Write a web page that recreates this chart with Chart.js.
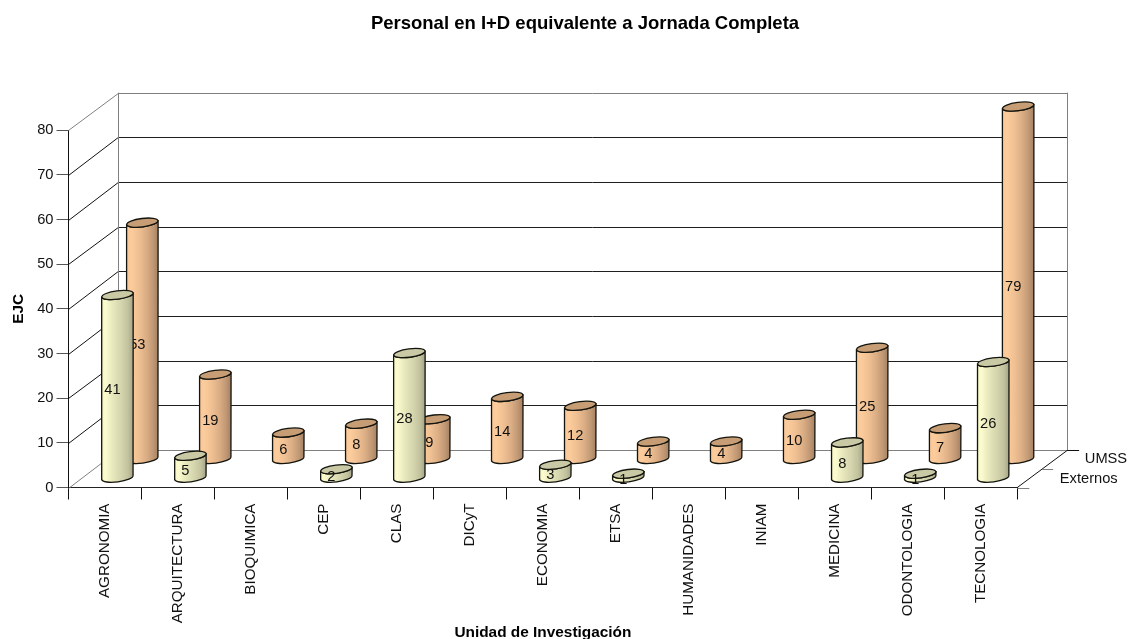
<!DOCTYPE html>
<html>
<head>
<meta charset="utf-8">
<style>html,body{margin:0;padding:0;background:#fff}canvas{display:block}</style>
<script src="https://cdn.jsdelivr.net/npm/chart.js@4"></script>
</head>
<body>
<canvas id="c" width="1132" height="639"></canvas>
<script>
const categories = ['AGRONOMIA','ARQUITECTURA','BIOQUIMICA','CEP','CLAS','DICyT','ECONOMIA','ETSA','HUMANIDADES','INIAM','MEDICINA','ODONTOLOGIA','TECNOLOGIA'];
const externos = [41,5,null,2,28,null,3,1,null,null,8,1,26];
const umss = [53,19,6,8,9,14,12,4,4,10,25,7,79];
const yTicks = [0,10,20,30,40,50,60,70,80];

const FONT = '"Liberation Sans", Arial, sans-serif';
const DEPTH_X = 49.8, DEPTH_Y = 37.5;
const TILT = -0.13;

const palettes = {
  front: {stops:[[0,'#f6f6c6'],[0.12,'#fbfbcf'],[0.35,'#e8e8bd'],[0.6,'#d6d6af'],[0.84,'#c2c29e'],[1,'#a4a488']], top:'#c9c9a6'},
  back:  {stops:[[0,'#f8c89a'],[0.15,'#fdcc9c'],[0.4,'#eebf92'],[0.62,'#dcae85'],[0.84,'#c09874'],[1,'#a48063']], top:'#c69d74'}
};

Chart.BarElement.prototype.draw = function (ctx) {
  const ds = this.$ds;
  const v = this.$raw;
  if (!ds || v === null || v === undefined) return;
  const cx = this.x + DEPTH_X * ds.depth;
  const yb = this.base - DEPTH_Y * ds.depth;
  const yt = this.y - DEPTH_Y * ds.depth;
  const rx = this.width / 2, ry = 4.2;
  const dy = rx * Math.sin(-TILT);
  const pal = palettes[ds.look];
  ctx.save();
  const g = ctx.createLinearGradient(cx - rx, 0, cx + rx, 0);
  pal.stops.forEach(s => g.addColorStop(s[0], s[1]));
  ctx.beginPath();
  ctx.moveTo(cx - rx, yt + dy);
  ctx.lineTo(cx - rx, yb + dy);
  ctx.ellipse(cx, yb, rx, ry, TILT, Math.PI, 0, true);
  ctx.lineTo(cx + rx, yt - dy);
  ctx.ellipse(cx, yt, rx, ry, TILT, 0, Math.PI, false);
  ctx.closePath();
  ctx.fillStyle = g;
  ctx.fill();
  ctx.strokeStyle = '#14140e';
  ctx.lineWidth = 1.3;
  ctx.stroke();
  ctx.beginPath();
  ctx.ellipse(cx, yt, rx, ry, TILT, 0, Math.PI * 2);
  ctx.fillStyle = pal.top;
  ctx.fill();
  ctx.stroke();
  ctx.fillStyle = '#111';
  ctx.font = '14.67px ' + FONT;
  ctx.textAlign = 'center';
  ctx.textBaseline = 'middle';
  ctx.fillText(String(v), cx - 5, (yb + yt) / 2 + 4);
  ctx.restore();
};

const wall = {
  id: 'wall',
  afterLayout(chart) {
    if (chart.titleBlock) { chart.titleBlock.left = 0; chart.titleBlock.right = 1170; }
  },
  beforeDatasetsDraw(chart) {
    chart.data.datasets.forEach((ds, i) => {
      chart.getDatasetMeta(i).data.forEach((el, j) => { el.$ds = ds; el.$raw = ds.data[j]; });
    });
    const c = chart.ctx, y = chart.scales.y, a = chart.chartArea;
    const L = a.left, R = a.right, B = a.bottom;
    const line = (x0, y0, x1, y1, col) => {
      c.beginPath(); c.moveTo(x0, y0); c.lineTo(x1, y1);
      c.strokeStyle = col; c.lineWidth = 1; c.stroke();
    };
    c.save();
    yTicks.forEach(t => {
      const p = y.getPixelForValue(t);
      const back = Math.round(p - DEPTH_Y) + 0.5;
      const edge = (t === 0 || t === 80);
      line(L, Math.round(p) + 0.5, L + DEPTH_X, back, edge ? '#808080' : '#111');
      line(L + DEPTH_X, back, R + DEPTH_X, back, edge ? '#808080' : '#1e1e1e');
    });
    const wallX = Math.round(L + DEPTH_X) + 0.5, wallR = Math.round(R + DEPTH_X) + 0.5;
    const topP = y.getPixelForValue(80) - DEPTH_Y, botP = Math.round(B - DEPTH_Y) + 0.5;
    line(wallX, topP, wallX, botP, '#808080');
    line(wallR, topP, wallR, botP, '#808080');
    line(R, B, R + DEPTH_X, botP, '#111');
    line(R, Math.round(B) + 0.5, R + 12, Math.round(B) + 0.5, '#808080');
    const midX = R + DEPTH_X / 2, midY = Math.round(B - DEPTH_Y / 2) + 0.5;
    line(midX, midY, midX + 11, midY, '#808080');
    line(R + DEPTH_X, botP, R + DEPTH_X + 12, botP, '#111');
    c.fillStyle = '#111';
    c.font = '14.67px ' + FONT;
    c.textAlign = 'left';
    c.textBaseline = 'middle';
    c.fillText('UMSS', R + 67.5, B - 29);
    c.fillText('Externos', R + 42.5, B - 9);
    c.restore();
  }
};

new Chart(document.getElementById('c'), {
  type: 'bar',
  plugins: [wall],
  data: {
    labels: categories,
    datasets: [
      {label: 'Externos', data: externos, depth: 0.25, look: 'front', order: 0, grouped: false, barThickness: 31.5, backgroundColor: '#e6e6bb', clip: false},
      {label: 'UMSS', data: umss, depth: 0.75, look: 'back', order: 1, grouped: false, barThickness: 31.5, backgroundColor: '#ecbd90', clip: false}
    ]
  },
  options: {
    responsive: false,
    animation: false,
    layout: {padding: {left: 0, right: 114.7, top: 0, bottom: 0}},
    plugins: {
      legend: {display: false},
      tooltip: {enabled: false},
      title: {
        display: true,
        text: 'Personal en I+D equivalente a Jornada Completa',
        color: '#000',
        font: {family: FONT, size: 18.5, weight: 'bold'},
        padding: {top: 13, bottom: 95}
      }
    },
    scales: {
      x: {
        type: 'category',
        offset: true,
        afterFit(s) { s.height = 151.5; },
        grid: {offset: true, drawOnChartArea: false, tickLength: 12, color: '#111', tickColor: '#111'},
        border: {color: '#222', width: 1},
        ticks: {minRotation: 90, maxRotation: 90, autoSkip: false, padding: 4, color: '#111', font: {family: FONT, size: 15.2}},
        title: {display: true, text: 'Unidad de Investigación', color: '#000', font: {family: FONT, size: 15.4, weight: 'bold'}, padding: {top: 0, bottom: -3}}
      },
      y: {
        min: 0,
        max: 80,
        afterFit(s) { s.width = 68.5; },
        afterBuildTicks(s) { s.ticks = yTicks.map(v => ({value: v})); },
        grid: {drawOnChartArea: false, tickLength: 12, color: '#666', tickColor: '#555'},
        border: {color: '#111', width: 1},
        ticks: {padding: 3, color: '#111', font: {family: FONT, size: 14.67}},
        title: {display: true, text: 'EJC', color: '#000', font: {family: FONT, size: 15.4, weight: 'bold'}, padding: {top: 10, bottom: 0}}
      }
    }
  }
});
</script>
</body>
</html>
